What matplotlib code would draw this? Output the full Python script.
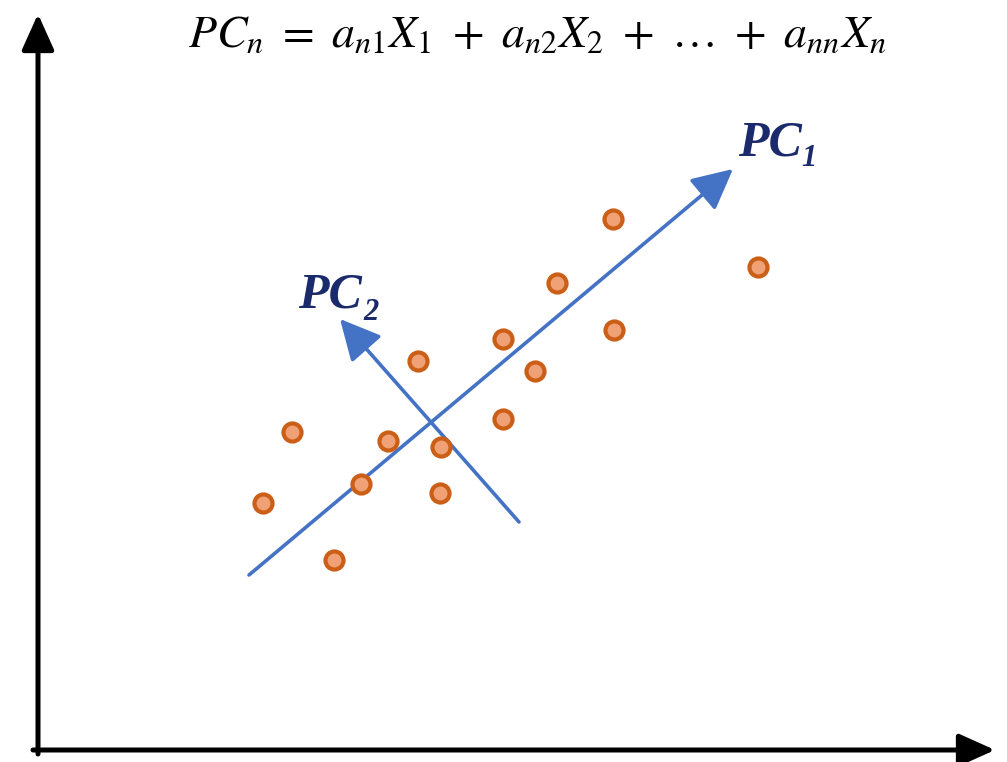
import matplotlib
matplotlib.use("Agg")
import matplotlib.pyplot as plt

'''Values read off the reference picture (pixel space, y grows downward)'''
pts_x = [292, 263, 334, 361, 388, 418, 441, 440, 503, 503, 535, 557, 613, 614, 758]
pts_y = [432, 503, 560, 484, 441, 361, 447, 493, 339, 419, 371, 283, 219, 330, 267]

pc1_start = (249, 575)
pc1_tip = (733, 169)
pc2_start = (519, 522)
pc2_tip = (340, 319)

equation = (r"$PC_n\ =\ a_{n1}X_1\ +\ a_{n2}X_2\ +\ \ldots\ +\ a_{nn}X_n$")

plt.rcParams["mathtext.fontset"] = "stix"

fig = plt.figure(figsize=(10.07, 7.62), dpi=100)
ax = fig.add_axes([0, 0, 1, 1])
ax.set_xlim(0, 1007)
ax.set_ylim(762, 0)
ax.axis("off")

# axes arrows
ax.annotate("", xy=(38, 14), xytext=(38, 754),
            arrowprops=dict(arrowstyle="-|>,head_length=1.0,head_width=0.45",
                            lw=3.6, color="black", shrinkA=0, shrinkB=0, mutation_scale=22))
ax.annotate("", xy=(995, 750), xytext=(33, 750),
            arrowprops=dict(arrowstyle="-|>,head_length=1.0,head_width=0.45",
                            lw=3.6, color="black", shrinkA=0, shrinkB=0, mutation_scale=22))

# principal component arrows
blue = "#4472c4"
for start, tip in [(pc1_start, pc1_tip), (pc2_start, pc2_tip)]:
    ax.annotate("", xy=tip, xytext=start,
                arrowprops=dict(arrowstyle="-|>,head_length=1.0,head_width=0.5",
                                lw=2.6, color=blue, shrinkA=0, shrinkB=0, mutation_scale=25))

# points
ax.plot(pts_x, pts_y, "o", ms=13, mfc="#f0a276", mec="#cb5f18", mew=3, zorder=3)

# labels
navy = "#1b2a6b"
lab = dict(family="Liberation Serif", weight="bold", style="italic", color=navy)
ax.text(738, 155, "PC", fontsize=36, ha="left", va="baseline", **lab)
ax.text(801, 166, "1", fontsize=22, ha="left", va="baseline", **lab)
ax.text(298, 307, "PC", fontsize=36, ha="left", va="baseline", **lab)
ax.text(363, 320, "2", fontsize=22, ha="left", va="baseline", **lab)

ax.text(537, 47, equation, fontsize=33, ha="center", va="baseline")

fig.savefig("out.png", dpi=100)
